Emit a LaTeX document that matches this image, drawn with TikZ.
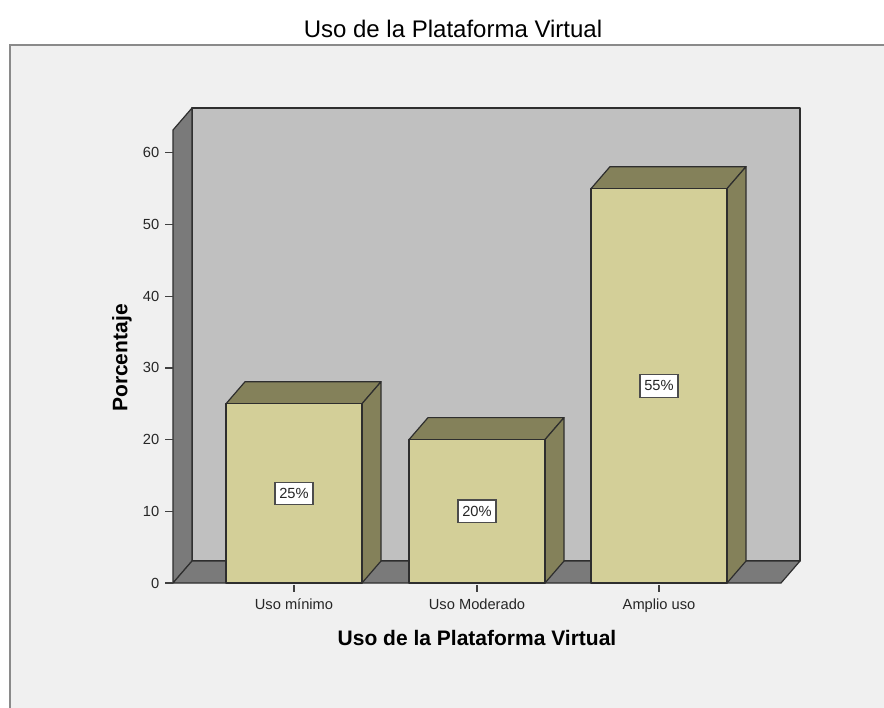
\documentclass[tikz,border=0pt]{standalone}
\usepackage{fontspec}
\setmainfont{Liberation Sans}
\definecolor{framebg}{HTML}{F0F0F0}
\definecolor{framegray}{HTML}{8A8A8A}
\definecolor{backwall}{HTML}{C0C0C0}
\definecolor{sidewall}{HTML}{7A7A7A}
\definecolor{barfront}{HTML}{D3CF98}
\definecolor{barshade}{HTML}{84815A}
\definecolor{outline}{HTML}{2E2E2E}
\newcommand\chartbar[4]{%
  \pgfmathsetmacro\bl{#2-68}%
  \pgfmathsetmacro\br{#2+68}%
  \pgfmathsetmacro\bt{583-7.17*#3}%
  \filldraw[barshadestyle] (\bl,\bt) -- (\bl+19,\bt-22) -- (\br+19,\bt-22) -- (\br,\bt) -- cycle;
  \filldraw[barshadestyle] (\br,\bt) -- (\br+19,\bt-22) -- (\br+19,561) -- (\br,583) -- cycle;
  \filldraw[barfrontstyle] (\bl,\bt) rectangle (\br,583);
  \node[valbox] (#1) at (#2,{(583+\bt)/2}) {#3\%};
  \draw[tickstyle] (#2,585) -- (#2,592);
  \node[catlabel] (#1cat) at (#2,609) {#4};
}
\begin{document}
\begin{tikzpicture}[x=0.75pt,y=-0.75pt,
  barshadestyle/.style={fill=barshade,draw=outline,line width=0.9pt,line join=round},
  barfrontstyle/.style={fill=barfront,draw=outline,line width=0.9pt,line join=round},
  wallstyle/.style={draw=outline,line width=0.9pt,line join=round},
  valbox/.style={fill=white,draw=black!70,line width=0.8pt,inner sep=0pt,minimum width=28.5pt,minimum height=17pt,font=\fontsize{11}{12}\selectfont,text=black!85},
  catlabel/.style={anchor=base,font=\fontsize{11}{12}\selectfont,text=black!85},
  ticklabel/.style={anchor=base east,font=\fontsize{11}{12}\selectfont,text=black!85},
  tickstyle/.style={draw=black!75,line width=0.9pt},
  boldtitle/.style={font=\bfseries\fontsize{15.75}{17}\selectfont}
]
\fill[white] (0,0) rectangle (884,707);
\useasboundingbox (0,0) rectangle (884,707);
% frame
\filldraw[fill=framebg,draw=framegray,line width=1.4pt] (10,45) rectangle (900,720);
\node[anchor=base,font=\fontsize{18}{20}\selectfont] (title) at (453,37) {Uso de la Plataforma Virtual};
% walls
\filldraw[wallstyle,fill=backwall] (192,108) rectangle (800,561);
\filldraw[wallstyle,fill=sidewall] (173,130) -- (192,108) -- (192,561) -- (173,583) -- cycle;
\filldraw[wallstyle,fill=sidewall] (173,583) -- (192,561) -- (800,561) -- (781,583) -- cycle;
% y ticks
\foreach \v in {0,10,...,60} {
  \pgfmathsetmacro\ty{583-7.17*\v}
  \draw[tickstyle] (165,\ty) -- (173,\ty);
  \node[ticklabel] (tick\v) at (164,\ty+5) {\v};
}
% bars
\chartbar{b1}{294}{25}{Uso mínimo}
\chartbar{b2}{477}{20}{Uso Moderado}
\chartbar{b3}{659}{55}{Amplio uso}
% axis titles
\node[boldtitle,anchor=base] (xtitle) at (477,645) {Uso de la Plataforma Virtual};
\node[boldtitle,rotate=90] (ytitle) at (122,358) {Porcentaje};
\end{tikzpicture}
\end{document}
